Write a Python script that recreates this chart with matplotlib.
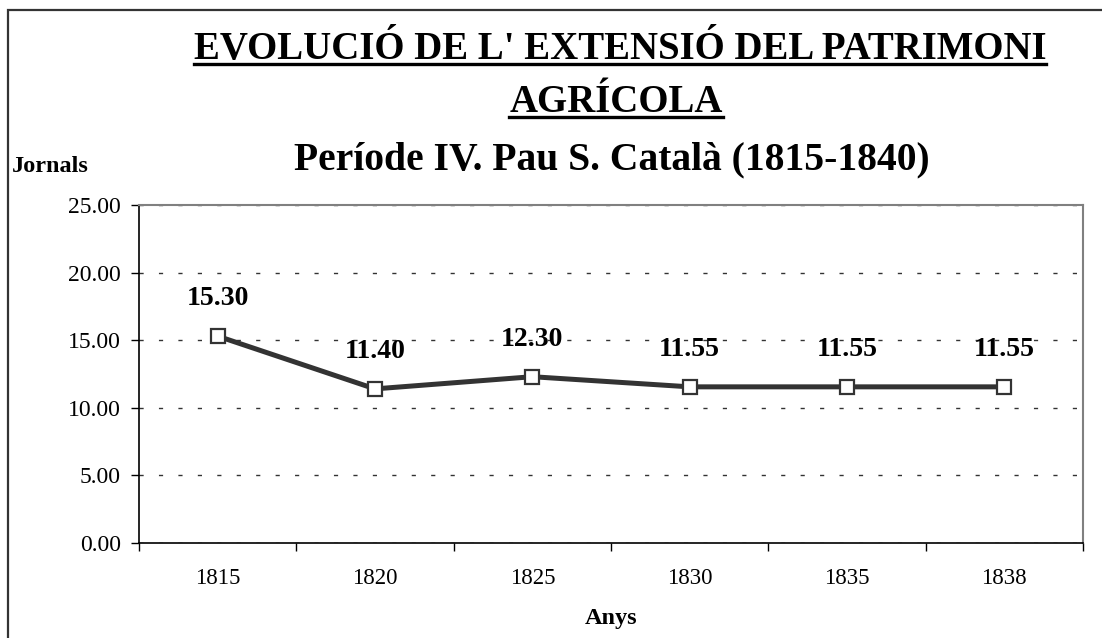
import matplotlib
matplotlib.use("Agg")
import matplotlib.pyplot as plt
from matplotlib.lines import Line2D
from matplotlib.patches import Rectangle

years = ["1815", "1820", "1825", "1830", "1835", "1838"]
jornals = [15.30, 11.40, 12.30, 11.55, 11.55, 11.55]
y_ticks = [0, 5, 10, 15, 20, 25]

title_1 = "EVOLUCIÓ DE L' EXTENSIÓ DEL PATRIMONI"
title_2 = "AGRÍCOLA"
subtitle = "Període IV. Pau S. Català (1815-1840)"

plt.rcParams["font.family"] = ["Liberation Serif", "DejaVu Serif"]

W, H = 1102, 638
fig = plt.figure(figsize=(W / 100, H / 100), dpi=100)


def fx(px):
    return px / W


def fy(py):
    return 1 - py / H


# outer frame (runs off the right and bottom edge)
fig.patches.append(Rectangle((fx(8), -0.2), 1.2, fy(10) + 0.2, transform=fig.transFigure,
                             fill=False, edgecolor="#333333", linewidth=1.6))

ax = fig.add_axes([fx(139), fy(543), fx(1083) - fx(139), fy(205) - fy(543)])

x = list(range(len(years)))
ax.plot(x, jornals, color="#333333", linewidth=3.6, marker="s", markersize=10.5,
        markerfacecolor="white", markeredgecolor="#333333", markeredgewidth=1.6,
        zorder=3, clip_on=False)

for xi, v in zip(x, jornals):
    ax.annotate(f"{v:.2f}", (xi, v), xytext=(0, 27), textcoords="offset points",
                ha="center", va="center", fontsize=20, fontweight="bold")

ax.set_xlim(-0.5, len(years) - 0.5)
ax.set_ylim(0, 25)
ax.set_yticks(y_ticks)
ax.set_yticklabels([f"{t:.2f}" for t in y_ticks])
ax.set_xticks(x)
ax.set_xticklabels(years)
ax.set_xticks([i - 0.5 for i in range(len(years) + 1)], minor=True)
ax.tick_params(axis="x", which="major", length=0, pad=18, labelsize=16.5)
ax.tick_params(axis="x", which="minor", length=6, width=1, color="black")
ax.tick_params(axis="y", length=6, width=1, pad=7, labelsize=17)

ax.yaxis.grid(True, linestyle=(0, (3, 11)), color="#333333", linewidth=1)
ax.set_axisbelow(True)
for side in ["top", "right"]:
    ax.spines[side].set_color("#808080")
    ax.spines[side].set_linewidth(1.5)
for side in ["left", "bottom"]:
    ax.spines[side].set_color("black")
    ax.spines[side].set_linewidth(1.2)

ax.set_xlabel("Anys", fontsize=17.5, fontweight="bold", labelpad=14)

t1 = fig.text(fx(620), fy(59), title_1, ha="center", va="baseline", fontsize=28, fontweight="bold")
t2 = fig.text(fx(616), fy(112), title_2, ha="center", va="baseline", fontsize=28, fontweight="bold")
fig.text(fx(612), fy(169), subtitle, ha="center", va="baseline", fontsize=28.5, fontweight="bold")
fig.text(fx(12), fy(172), "Jornals", ha="left", va="baseline", fontsize=17.5, fontweight="bold")

# underline the two title lines
renderer = fig.canvas.get_renderer()
for t, uy in [(t1, 63.5), (t2, 116.5)]:
    bb = t.get_window_extent(renderer)
    fig.lines.append(Line2D([bb.x0 / W, bb.x1 / W], [fy(uy), fy(uy)], transform=fig.transFigure,
                            color="black", linewidth=2.4))

fig.savefig("out.png", dpi=100)
